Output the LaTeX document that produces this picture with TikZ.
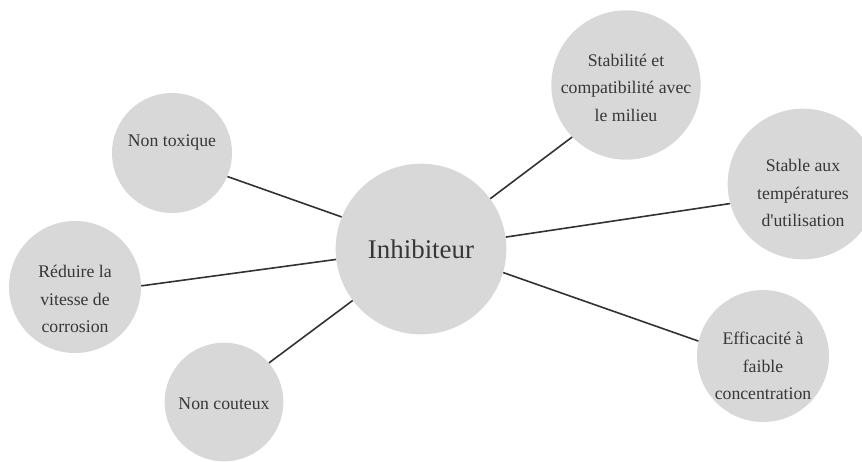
\documentclass[tikz,border=0pt]{standalone}
\usepackage{fontspec}
\setmainfont{Liberation Serif}
\definecolor{bubblegray}{RGB}{216,216,216}
\definecolor{inkgray}{RGB}{55,55,55}
\definecolor{linegray}{RGB}{50,50,50}

\begin{document}
\begin{tikzpicture}[x=0.75pt, y=-0.75pt, bubble/.style={circle,
            fill=bubblegray, inner sep=0pt}, caption/.style={text=inkgray,
            align=center, font=\fontsize{13.3}{20.6}\selectfont},
        link/.style={draw=linegray, line width=1.2pt}]

        \useasboundingbox (0,0) rectangle (862,461);

        \node[bubble, minimum size=128pt, label={[caption,
        font=\fontsize{20.2}{24}\selectfont]center:Inhibiteur}]
        (inhibiteur) at (421,249) {};

        \node[bubble, minimum size=90pt, label={[caption,
        yshift=7.5pt]center:Non toxique}] (toxique) at (172,153) {};

        \node[bubble, minimum size=99pt, label={[caption,
        yshift=-9pt]center:Réduire la\\vitesse de\\corrosion}] (vitesse)
        at (75,287) {};

        \node[bubble, minimum size=89pt, label={[caption,
        yshift=-1pt]center:Non couteux}] (couteux) at (224,402) {};

        \node[bubble, minimum size=112pt, label={[caption,
        yshift=-2pt]center:Stabilité et\\compatibilité avec\\le milieu}]
        (milieu) at (626,85) {};

        \node[bubble, minimum size=113pt, label={[caption,
        yshift=-7pt]center:Stable aux\\températures\\d\textquotesingle
            utilisation}] (temperatures) at (803,184) {};

        \node[bubble, minimum size=99pt, label={[caption,
        yshift=-7.5pt]center:Efficacité à\\faible\\concentration}]
        (concentration) at (763,356) {};

        \draw[link] (toxique.-23.6) -- (inhibiteur.158);

        \draw[link] (vitesse.1) -- (inhibiteur.-173);

        \draw[link] (couteux.41) -- (inhibiteur.217.4);

        \draw[link] (inhibiteur.36.5) -- (milieu.224.5);

        \draw[link] (inhibiteur.8.8) -- (temperatures.195.8);

        \draw[link] (inhibiteur.-16.5) -- (concentration.167.7);
    \end{tikzpicture}
\end{document}
